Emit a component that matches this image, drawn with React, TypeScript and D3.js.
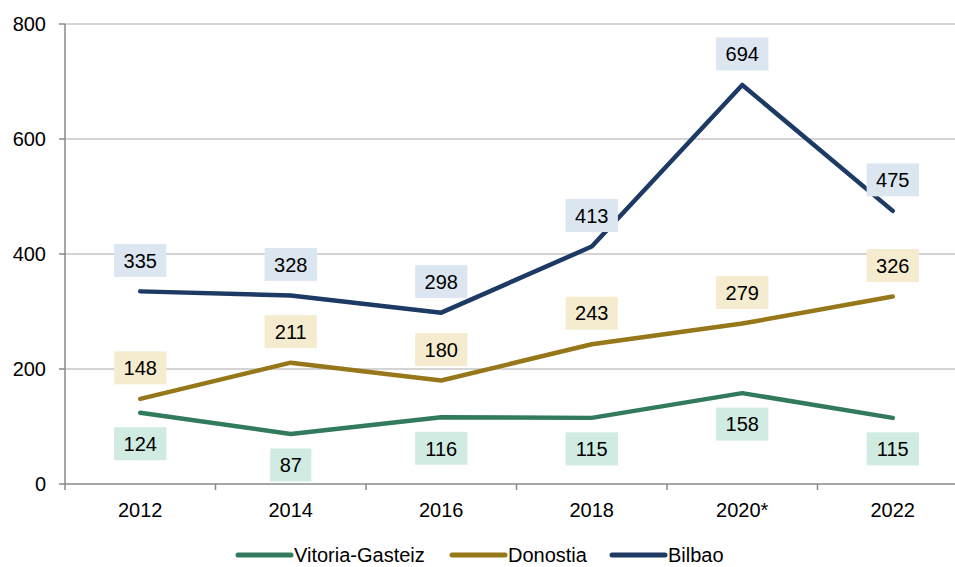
import * as d3 from 'd3';

const years = ['2012', '2014', '2016', '2018', '2020*', '2022'];
const vitoria = [124, 87, 116, 115, 158, 115];
const donostia = [148, 211, 180, 243, 279, 326];
const bilbao = [335, 328, 298, 413, 694, 475];
const yTicks = [0, 200, 400, 600, 800];

const SERIES = [
    { name: 'Vitoria-Gasteiz', values: vitoria, color: '#327a5e', box: '#d0ebe1', below: true },
    { name: 'Donostia', values: donostia, color: '#967719', box: '#f5ebce', below: false },
    { name: 'Bilbao', values: bilbao, color: '#1c3a63', box: '#dce6f1', below: false },
];

const CHART = {
    width: 955,
    height: 567,
    left: 65,
    right: 968,
    top: 24,
    bottom: 484,
    fontSize: 20,
    font: 'Liberation Sans, Arial, sans-serif',
};

export default function App() {
    const x = d3.scaleBand().domain(years).range([CHART.left, CHART.right]);
    const y = d3.scaleLinear().domain([0, 800]).range([CHART.bottom, CHART.top]);
    const cx = (d: string) => (x(d) as number) + x.bandwidth() / 2;

    const line = d3.line<number>()
        .x((_, i) => cx(years[i]))
        .y((d) => y(d));

    // boundaries between categories for x ticks
    const xTickPos = years.map((d) => x(d) as number).concat([CHART.right]);

    const legendX = [238, 452, 612];
    const fs = CHART.fontSize;

    return (
        <svg width={CHART.width} height={CHART.height}
            style={{ position: 'absolute', left: 0, top: 0, fontFamily: CHART.font }}>
            <rect width={CHART.width} height={CHART.height} fill="#fff" />

            {/* gridlines */}
            {yTicks.filter((t) => t > 0).map((t) => (
                <line key={t} x1={CHART.left} x2={CHART.width} y1={y(t)} y2={y(t)}
                    stroke="#c6c6c6" strokeWidth={1.5} />
            ))}

            {/* y axis */}
            <line x1={CHART.left} x2={CHART.left} y1={CHART.top} y2={CHART.bottom}
                stroke="#888" strokeWidth={1.5} />
            {yTicks.map((t) => (
                <g key={t}>
                    <line x1={CHART.left - 6} x2={CHART.left} y1={y(t)} y2={y(t)} stroke="#888" strokeWidth={1.5} />
                    <text x={46} y={y(t)} dy="0.35em" textAnchor="end" fontSize={fs} fill="#000">{t}</text>
                </g>
            ))}

            {/* x axis */}
            <line x1={CHART.left} x2={CHART.width} y1={CHART.bottom} y2={CHART.bottom}
                stroke="#888" strokeWidth={1.5} />
            {xTickPos.map((p, i) => (
                <line key={i} x1={p} x2={p} y1={CHART.bottom} y2={CHART.bottom + 6} stroke="#888" strokeWidth={1.5} />
            ))}
            {years.map((d) => (
                <text key={d} x={cx(d)} y={517} textAnchor="middle" fontSize={fs} fill="#000">{d}</text>
            ))}

            {/* lines */}
            {SERIES.map((s) => (
                <path key={s.name} d={line(s.values) ?? ''} fill="none" stroke={s.color}
                    strokeWidth={4.5} strokeLinejoin="round" strokeLinecap="round" />
            ))}

            {/* data labels */}
            {SERIES.map((s) => s.values.map((v, i) => {
                const label = String(v);
                const w = label.length * 11.1 + 19;
                const h = 33;
                const ly = y(v) + (s.below ? 31 : -31);
                return (
                    <g key={s.name + i}>
                        <rect x={cx(years[i]) - w / 2} y={ly - h / 2} width={w} height={h} fill={s.box} />
                        <text x={cx(years[i])} y={ly} dy="0.36em" textAnchor="middle" fontSize={fs} fill="#000">{label}</text>
                    </g>
                );
            }))}

            {/* legend */}
            {SERIES.map((s, i) => (
                <g key={s.name} transform={`translate(${legendX[i]}, 555)`}>
                    <line x1={0} x2={53} y1={0} y2={0} stroke={s.color} strokeWidth={5} strokeLinecap="round" />
                    <text x={56} y={0} dy="0.35em" fontSize={fs} fill="#000">{s.name}</text>
                </g>
            ))}
        </svg>
    );
}
